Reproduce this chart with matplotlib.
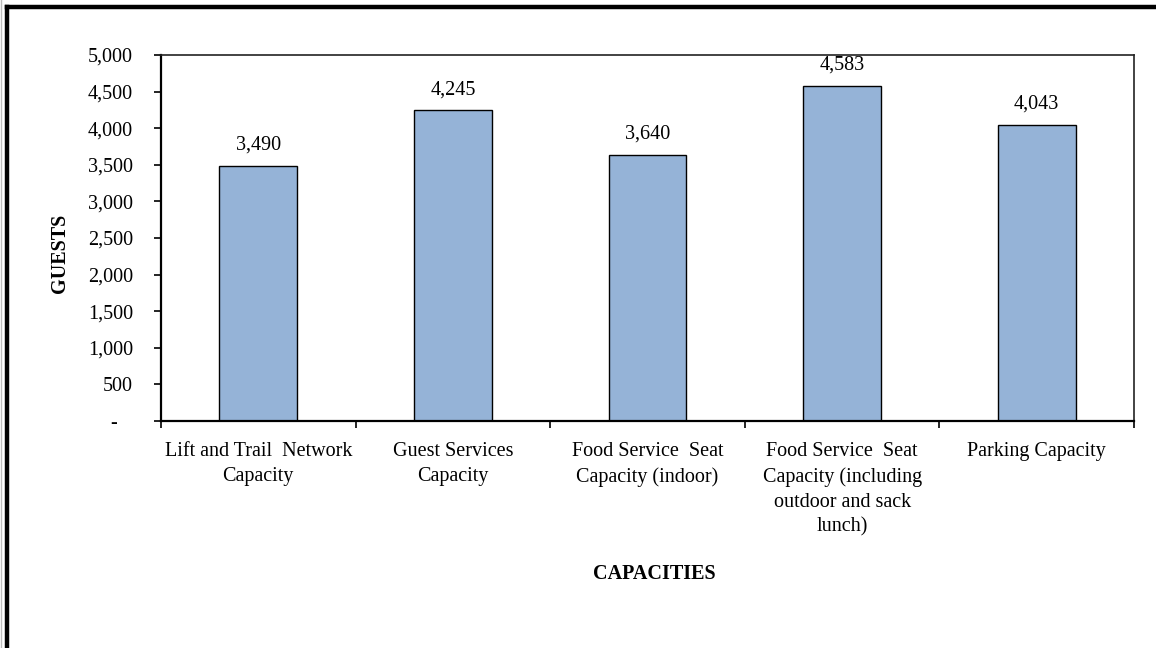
import matplotlib
matplotlib.use("Agg")
import matplotlib.pyplot as plt
from matplotlib.lines import Line2D
from matplotlib.ticker import FuncFormatter

CATEGORIES = [
    "Lift and Trail  Network\nCapacity",
    "Guest Services\nCapacity",
    "Food Service  Seat\nCapacity (indoor)",
    "Food Service  Seat\nCapacity (including\noutdoor and sack\nlunch)",
    "Parking Capacity",
]
GUESTS = [3490, 4245, 3640, 4583, 4043]
Y_TICKS = [0, 500, 1000, 1500, 2000, 2500, 3000, 3500, 4000, 4500, 5000]

plt.rcParams["font.family"] = ["Liberation Serif", "DejaVu Serif"]
FS = 14.5

W, H = 1156, 648
fig = plt.figure(figsize=(W / 100, H / 100), dpi=100)
ax = fig.add_axes([161 / W, 1 - 421 / H, (1134 - 161) / W, (421 - 55) / H])

x = list(range(len(CATEGORIES)))
bars = ax.bar(x, GUESTS, width=0.4, color="#95B3D7", edgecolor="black", linewidth=1.0)
for rect, v in zip(bars, GUESTS):
    ax.annotate(f"{v:,}", (rect.get_x() + rect.get_width() / 2, v),
                xytext=(0, 8), textcoords="offset points",
                ha="center", va="bottom", fontsize=FS)

ax.set_xlim(-0.5, len(CATEGORIES) - 0.5)
ax.set_ylim(0, 5000)
ax.set_yticks(Y_TICKS)
ax.yaxis.set_major_formatter(FuncFormatter(lambda v, p: "-   " if v == 0 else f"{int(v):,}"))
ax.tick_params(axis="y", direction="out", length=5, width=1.2, pad=15, labelsize=FS)

ax.set_xticks([i + 0.5 for i in range(-1, len(CATEGORIES))])
ax.set_xticklabels([])
ax.set_xticks(x, minor=True)
ax.set_xticklabels(CATEGORIES, minor=True, fontsize=FS, linespacing=1.42, va="top")
ax.tick_params(axis="x", which="major", direction="out", length=5, width=1.2)
ax.tick_params(axis="x", which="minor", length=0, pad=15)

for side in ["left", "bottom"]:
    ax.spines[side].set_linewidth(1.6)
for side in ["top", "right"]:
    ax.spines[side].set_linewidth(1.2)
    ax.spines[side].set_color("#222222")

fig.text(60 / W, 1 - 253 / H, "GUESTS", rotation=90, ha="center", va="center",
         fontsize=FS, fontweight="bold")
fig.text(654 / W, 1 - 574 / H, "CAPACITIES", ha="center", va="center",
         fontsize=FS, fontweight="bold")

# outer frame (left and top edges)
fig.add_artist(Line2D([6.5 / W, 6.5 / W], [0, 1 - 6.5 / H], color="black", linewidth=3.2))
fig.add_artist(Line2D([6.5 / W, 1], [1 - 6.5 / H, 1 - 6.5 / H], color="black", linewidth=3.2))
fig.add_artist(Line2D([0.7 / W, 0.7 / W], [0, 1], color="#bbbbbb", linewidth=1))

fig.savefig("out.png", dpi=100)
